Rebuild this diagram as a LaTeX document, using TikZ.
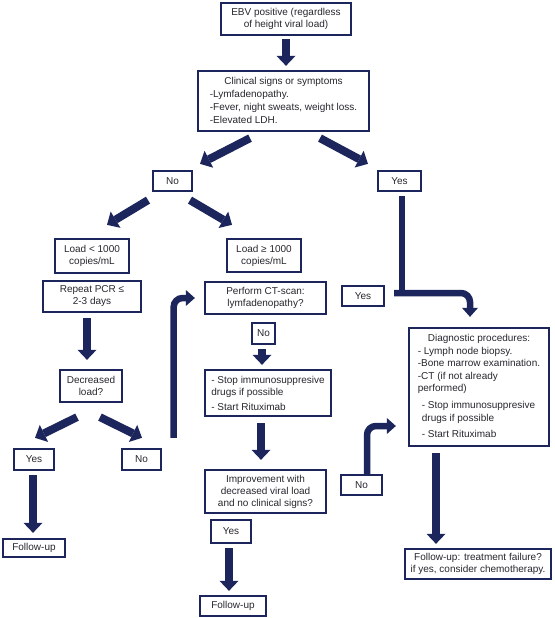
\documentclass[tikz,border=0pt]{standalone}
\usepackage{fontspec}
\setmainfont{Liberation Sans}
\usetikzlibrary{arrows.meta,positioning}
\definecolor{navy}{RGB}{28,38,92}
\definecolor{ink}{RGB}{38,38,46}

\begin{document}
\begin{tikzpicture}[x=1pt,y=-1pt,
  cell/.style={draw=navy,line width=2.3pt,text=ink,align=center,inner sep=2pt,font=\fontsize{10}{12}\selectfont},
  fat/.style={draw=navy,line width=8pt,-{Triangle[width=19pt,length=10pt,line width=0pt]}},
  elbow/.style={draw=navy,line width=6.5pt,rounded corners=9pt,-{Triangle[width=16pt,length=9pt,line width=0pt]}},
  stem/.style={draw=navy,line width=6pt}]
  \useasboundingbox (0,0) rectangle (554,618);
  \node[cell,minimum width=130pt,minimum height=32pt] (ebv) at (286,19) {EBV positive (regardless\\of height viral load)};
  \node[cell,minimum width=171pt,minimum height=60pt] (clin) at (283.5,101) {\renewcommand\arraystretch{1.08}\begin{tabular}{@{}l@{}}\multicolumn{1}{@{}c@{}}{Clinical signs or symptoms}\\-Lymfadenopathy.\\-Fever, night sweats, weight loss.\\-Elevated LDH.\end{tabular}};
  \node[cell,minimum width=39pt,minimum height=20pt] (no1) at (172.5,181) {No};
  \node[cell,minimum width=43pt,minimum height=20pt] (yes1) at (399.5,181) {Yes};
  \node[cell,minimum width=74pt,minimum height=34pt] (low) at (92,256) {Load < 1000\\copies/mL};
  \node[cell,minimum width=98pt,minimum height=31pt] (pcr) at (92,296.5) {Repeat PCR ≤\\2-3 days};
  \node[cell,minimum width=74pt,minimum height=33pt] (high) at (264,255.5) {Load ≥ 1000\\copies/mL};
  \node[cell,minimum width=121pt,minimum height=32pt] (ct) at (265.5,298) {Perform CT-scan:\\lymfadenopathy?};
  \node[cell,minimum width=42pt,minimum height=20pt] (yes2) at (363,296) {Yes};
  \node[cell,minimum width=62pt,minimum height=32pt] (dec) at (91,386) {Decreased\\load?};
  \node[cell,minimum width=40pt,minimum height=21pt] (yes3) at (34,459.5) {Yes};
  \node[cell,minimum width=39pt,minimum height=21pt] (no3) at (141.5,459.5) {No};
  \node[cell,minimum width=62pt,minimum height=18pt] (fu1) at (34,548) {Follow-up};
  \node[cell,minimum width=23pt,minimum height=21pt] (no2) at (263.5,333.5) {No};
  \node[cell,minimum width=126pt,minimum height=46pt,align=left] (stop) at (268,393) {- Stop immunosuppresive\\drugs if possible\\[3pt]- Start Rituximab};
  \node[cell,minimum width=121pt,minimum height=43pt] (impr) at (265.5,491.5) {Improvement with\\decreased viral load\\and no clinical signs?};
  \node[cell,minimum width=40pt,minimum height=23pt] (yes4) at (231,531.5) {Yes};
  \node[cell,minimum width=66pt,minimum height=20pt] (fu2) at (233,606) {Follow-up};
  \node[cell,minimum width=41pt,minimum height=20pt] (no4) at (361.5,485) {No};
  \node[cell,minimum width=140pt,minimum height=118pt] (diag) at (479,387) {\renewcommand\arraystretch{1.05}\begin{tabular}{@{}l@{}}\multicolumn{1}{@{}c@{}}{Diagnostic procedures:}\\- Lymph node biopsy.\\-Bone marrow examination.\\-CT (if not already\\performed)\\[4pt]\hspace{4pt}- Stop immunosuppresive\\\hspace{4pt}drugs if possible\\[4pt]\hspace{4pt}- Start Rituximab\end{tabular}};
  \node[cell,minimum width=146pt,minimum height=30pt] (fut) at (478,564) {Follow-up: treatment failure?\\if yes, consider chemotherapy.};
  \coordinate (yj) at (402,293);
  \draw[fat,shorten <=3pt,shorten >=4pt] (ebv.south) -- (ebv.south |- clin.north);
  \draw[fat] ([shift={(-33.5,6)}]clin.south) -- ([shift={(27.5,-6)}]no1.north);
  \draw[fat] ([shift={(36.5,6)}]clin.south) -- ([shift={(-31.5,-6)}]yes1.north);
  \draw[fat] ([shift={(-24.5,8)}]no1.south) -- ([shift={(15,-13)}]low.north);
  \draw[fat] ([shift={(17.5,8)}]no1.south) -- ([shift={(-32,-13)}]high.north);
  \draw[fat] ([shift={(-5,5)}]pcr.south) -- ([shift={(-4,-9)}]dec.north);
  \draw[fat] ([shift={(-14,14)}]dec.south) -- ([shift={(1,-10)}]yes3.north);
  \draw[fat] ([shift={(9,14)}]dec.south) -- ([shift={(0.5,-10)}]no3.north);
  \draw[fat] ([shift={(-1,4)}]yes3.south) -- ([shift={(-1,-5)}]fu1.north);
  \draw[fat] ([shift={(-1.5,4)}]no2.south) -- ([shift={(-6,-4)}]stop.north);
  \draw[fat] ([shift={(-7,6)}]stop.south) -- ([shift={(-4.5,-9)}]impr.north);
  \draw[fat] ([shift={(-2,4)}]yes4.south) -- ([shift={(-4,-4)}]fu2.north);
  \draw[fat] ([shift={(-43,6)}]diag.south) -- ([shift={(-42,-4)}]fut.north);
  \draw[elbow] ([shift={(11.5,-10)}]no3.north east) |- ([shift={(-9,0)}]ct.west);
  \draw[elbow] ([shift={(5.5,0)}]no4.north) |- ([shift={(-12,39)}]diag.west);
  \draw[stem] ([shift={(2.5,4)}]yes1.south) -- (yj);
  \draw[elbow] ([shift={(9,-3)}]yes2.east) -| ([shift={(-9,-10)}]diag.north);
\end{tikzpicture}
\end{document}
